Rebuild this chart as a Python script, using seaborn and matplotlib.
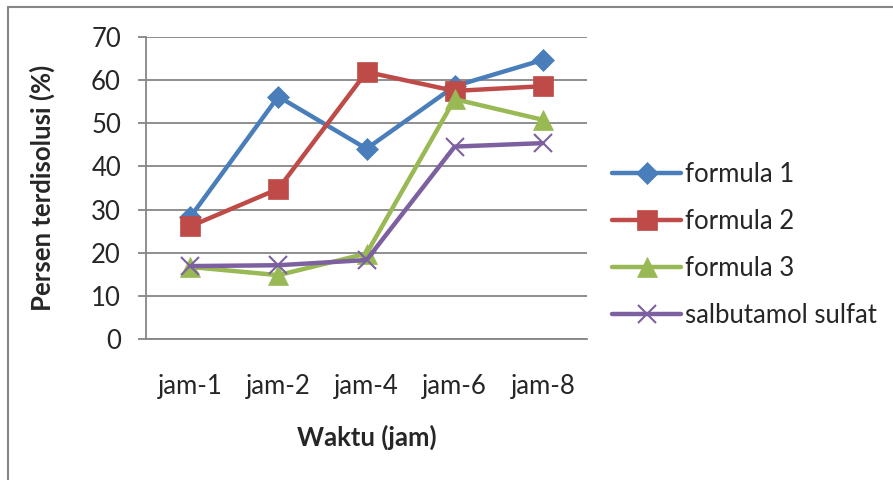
import matplotlib
matplotlib.use("Agg")
import matplotlib.pyplot as plt
from matplotlib.lines import Line2D
import seaborn as sns
import pandas as pd

# Dissolution data per time point
waktu = ["jam-1", "jam-2", "jam-4", "jam-6", "jam-8"]
formula_1 = [28.2, 56.2, 44.1, 58.6, 64.7]
formula_2 = [26.1, 34.8, 61.9, 57.5, 58.6]
formula_3 = [16.7, 14.8, 19.8, 55.6, 50.8]
salbutamol_sulfat = [16.9, 17.1, 18.3, 44.6, 45.4]

series_names = ["formula 1", "formula 2", "formula 3", "salbutamol sulfat"]
series_values = [formula_1, formula_2, formula_3, salbutamol_sulfat]

colors = ["#4A7EBB", "#BE4B48", "#98B954", "#7D60A0"]
markers = ["D", "s", "^", "x"]
msizes = [11, 14.5, 14.5, 13]

rows = []
for name, vals in zip(series_names, series_values):
    for i, v in enumerate(vals):
        rows.append({"series": name, "pos": i, "waktu": waktu[i], "nilai": v})
df = pd.DataFrame(rows)

sns.set_theme(style="white")
plt.rcParams["font.family"] = ["Lato", "DejaVu Sans"]

FS = 18.5

fig = plt.figure(figsize=(8.93, 4.80), dpi=100)
ax = fig.add_axes([146 / 893, 1 - 339 / 480, 441 / 893, 302 / 480])

for name, c, m, ms in zip(series_names, colors, markers, msizes):
    sub = df[df["series"] == name]
    sns.lineplot(data=sub, x="pos", y="nilai", ax=ax, color=c, linewidth=3.2,
                 marker=m, markersize=ms, markeredgecolor=c,
                 markeredgewidth=1.5 if m == "x" else 0.5,
                 legend=False, zorder=3)

ax.set_xlim(-0.5, 4.5)
ax.set_ylim(0, 70)
ax.set_yticks(range(0, 71, 10))
ax.set_xticks(range(len(waktu)))
ax.set_xticklabels(waktu)
ax.grid(axis="y", color="#868686", linewidth=1.3)
ax.set_axisbelow(True)
for s in ["top", "right"]:
    ax.spines[s].set_visible(False)
for s in ["left", "bottom"]:
    ax.spines[s].set_color("#868686")
    ax.spines[s].set_linewidth(1.3)
ax.tick_params(axis="y", which="major", left=True, length=6, width=1.3,
               color="#868686", labelsize=FS, pad=12)
ax.tick_params(axis="x", bottom=False, labelsize=FS, pad=19)

ax.set_xlabel("Waktu (jam)", fontsize=FS, fontweight="bold", labelpad=19)
ax.set_ylabel("Persen terdisolusi (%)", fontsize=FS, fontweight="bold", labelpad=26)

handles = [Line2D([0], [0], color=c, linewidth=3.2, marker=m, markersize=ms,
                  markeredgecolor=c, markeredgewidth=1.5 if m == "x" else 0.5)
           for c, m, ms in zip(colors, markers, msizes)]
fig.legend(handles, series_names, loc="center left",
           bbox_to_anchor=(612 / 893, 1 - 245 / 480), frameon=False,
           fontsize=FS, handlelength=2.7, handletextpad=0.15,
           labelspacing=0.86, borderpad=0, borderaxespad=0)

# Chart frame edges
fig.add_artist(Line2D([8 / 893, 8 / 893], [0, 1 - 7 / 480], color="#868686",
                      linewidth=1.5, transform=fig.transFigure))
fig.add_artist(Line2D([8 / 893, 1], [1 - 7 / 480, 1 - 7 / 480], color="#868686",
                      linewidth=1.5, transform=fig.transFigure))

fig.savefig("out.png", dpi=100)
